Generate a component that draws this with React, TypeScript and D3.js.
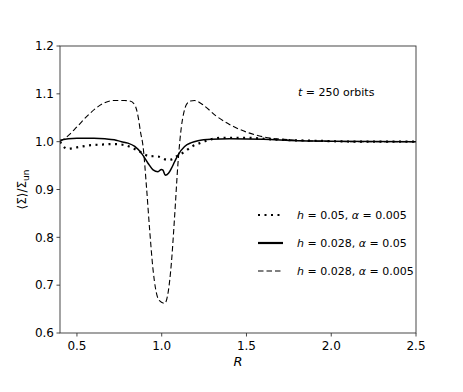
import React from "react";
import * as d3 from "d3";

// h=0.05, alpha=0.005 (dotted)
const dottedR = [0.4, 0.42, 0.445, 0.5, 0.567, 0.65, 0.724, 0.78, 0.82, 0.871, 0.924, 0.978, 1.033, 1.06, 1.086, 1.135, 1.184, 1.233, 1.282, 1.34, 1.5, 1.69, 1.89, 2.2, 2.5];
const dottedV = [1.0, 0.99, 0.985, 0.988, 0.992, 0.994, 0.995, 0.993, 0.988, 0.979, 0.97, 0.969, 0.962, 0.963, 0.969, 0.979, 0.991, 0.998, 1.004, 1.008, 1.008, 1.004, 1.002, 1.0, 1.0];

// h=0.028, alpha=0.05 (solid)
const solidR = [0.4, 0.45, 0.5, 0.6, 0.665, 0.72, 0.763, 0.8, 0.841, 0.88, 0.919, 0.949, 0.978, 0.998, 1.008, 1.021, 1.04, 1.057, 1.076, 1.096, 1.135, 1.175, 1.214, 1.292, 1.4, 1.6, 1.8, 2.0, 2.5];
const solidV = [1.003, 1.006, 1.007, 1.007, 1.006, 1.004, 1.0, 0.997, 0.99, 0.976, 0.955, 0.941, 0.937, 0.942, 0.94, 0.93, 0.934, 0.944, 0.958, 0.972, 0.99, 0.998, 1.002, 1.005, 1.006, 1.005, 1.002, 1.001, 1.0];

// h=0.028, alpha=0.005 (dashed)
const dashedR = [0.4, 0.45, 0.5, 0.576, 0.655, 0.714, 0.78, 0.812, 0.841, 0.861, 0.875, 0.89, 0.91, 0.929, 0.949, 0.965, 0.985, 1.018, 1.037, 1.057, 1.076, 1.096, 1.116, 1.13, 1.145, 1.17, 1.194, 1.243, 1.32, 1.4, 1.5, 1.6, 1.75, 1.92, 2.2, 2.5];
const dashedV = [1.0, 1.013, 1.031, 1.059, 1.08, 1.086, 1.086, 1.085, 1.077, 1.052, 1.02, 0.99, 0.906, 0.815, 0.732, 0.69, 0.668, 0.662, 0.683, 0.746, 0.843, 0.955, 1.031, 1.06, 1.077, 1.085, 1.086, 1.077, 1.054, 1.036, 1.02, 1.01, 1.004, 1.001, 1.0, 1.0];

const xTicks = [0.5, 1.0, 1.5, 2.0, 2.5];
const yTicks = [0.6, 0.7, 0.8, 0.9, 1.0, 1.1, 1.2];

const series = [
  { name: "dotted", r: dottedR, v: dottedV, h: "0.05", a: "0.005", dash: "2,4.5", width: 2.2, legendWidth: 2.2 },
  { name: "solid", r: solidR, v: solidV, h: "0.028", a: "0.05", dash: null, width: 1.5, legendWidth: 2.2 },
  { name: "dashed", r: dashedR, v: dashedV, h: "0.028", a: "0.005", dash: "5.5,3", width: 1.1, legendWidth: 1.1 },
];

const W = 463;
const H = 392;
const left = 60, right = 416, top = 46, bottom = 333;
const font = "DejaVu Sans, sans-serif";

export default function App() {
  const x = d3.scaleLinear().domain([0.4, 2.5]).range([left, right]);
  const y = d3.scaleLinear().domain([0.6, 1.2]).range([bottom, top]);

  const line = d3
    .line<[number, number]>()
    .x((d) => x(d[0]))
    .y((d) => y(d[1]))
    .curve(d3.curveMonotoneX);

  return (
    <svg width={W} height={H} style={{ position: "absolute", left: 0, top: 0, background: "#fff" }}>
      <defs>
        <clipPath id="plot">
          <rect x={left} y={top} width={right - left} height={bottom - top} />
        </clipPath>
      </defs>

      {/* curves */}
      <g clipPath="url(#plot)">
        {series.map((s) => (
          <path
            key={s.name}
            d={line(s.r.map((r, i) => [r, s.v[i]]) as [number, number][]) || ""}
            fill="none"
            stroke="#000"
            strokeWidth={s.width}
            strokeDasharray={s.dash || undefined}
          />
        ))}
      </g>

      {/* frame */}
      <rect x={left} y={top} width={right - left} height={bottom - top} fill="none" stroke="#333" strokeWidth={0.9} />

      {/* x axis */}
      {xTicks.map((t) => (
        <g key={t}>
          <line x1={x(t)} x2={x(t)} y1={bottom} y2={bottom + 3.5} stroke="#333" strokeWidth={0.9} />
          <text x={x(t)} y={350} textAnchor="middle" fontFamily={font} fontSize={12}>
            {t.toFixed(1)}
          </text>
        </g>
      ))}
      <text x={(left + right) / 2} y={366} textAnchor="middle" fontFamily={font} fontSize={13} fontStyle="italic">
        R
      </text>

      {/* y axis */}
      {yTicks.map((t) => (
        <g key={t}>
          <line x1={left - 3.5} x2={left} y1={y(t)} y2={y(t)} stroke="#333" strokeWidth={0.9} />
          <text x={54} y={y(t) + 4.3} textAnchor="end" fontFamily={font} fontSize={12}>
            {t.toFixed(1)}
          </text>
        </g>
      ))}
      <text transform={`translate(26, ${(top + bottom) / 2}) rotate(-90)`} textAnchor="middle" fontFamily={font} fontSize={12}>
        ⟨Σ⟩/Σ<tspan fontSize={9} dy={3}>un</tspan>
      </text>

      {/* annotation */}
      <text x={298} y={96} fontFamily={font} fontSize={11}>
        <tspan fontStyle="italic">t</tspan> = 250 orbits
      </text>

      {/* legend */}
      {series.map((s, i) => {
        const ly = 215 + i * 28;
        return (
          <g key={s.name}>
            <line x1={258} x2={283} y1={ly} y2={ly} stroke="#000" strokeWidth={s.legendWidth} strokeDasharray={s.dash || undefined} />
            <text x={297} y={ly + 4} fontFamily={font} fontSize={11}>
              <tspan fontStyle="italic">h</tspan> = {s.h}, <tspan fontStyle="italic">α</tspan> = {s.a}
            </text>
          </g>
        );
      })}
    </svg>
  );
}
